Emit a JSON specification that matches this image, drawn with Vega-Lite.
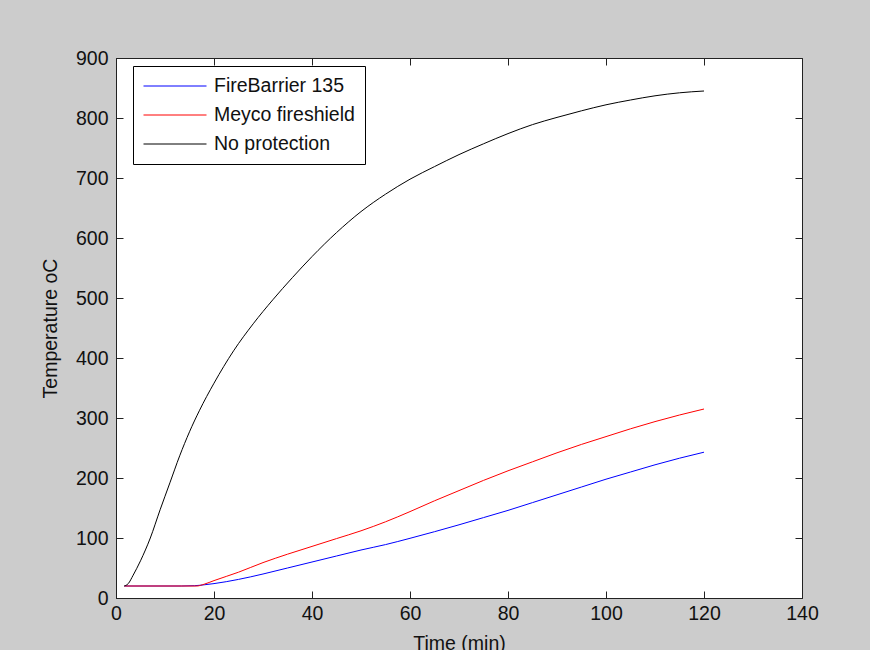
{
  "$schema": "https://vega.github.io/schema/vega-lite/v6.json",
  "autosize": {"type": "none"},
  "width": 686,
  "height": 540,
  "padding": {"left": 116, "top": 58, "right": 68, "bottom": 52},
  "background": "#cccccc",
  "data": {
    "values": [
      {"t": 1.7, "temp": 20, "series": "FireBarrier 135"},
      {"t": 13.4, "temp": 20, "series": "FireBarrier 135"},
      {"t": 16, "temp": 20.5, "series": "FireBarrier 135"},
      {"t": 18, "temp": 22, "series": "FireBarrier 135"},
      {"t": 20, "temp": 24, "series": "FireBarrier 135"},
      {"t": 25, "temp": 31, "series": "FireBarrier 135"},
      {"t": 30, "temp": 40, "series": "FireBarrier 135"},
      {"t": 35, "temp": 50, "series": "FireBarrier 135"},
      {"t": 40, "temp": 60, "series": "FireBarrier 135"},
      {"t": 45, "temp": 70, "series": "FireBarrier 135"},
      {"t": 50, "temp": 80, "series": "FireBarrier 135"},
      {"t": 55, "temp": 89, "series": "FireBarrier 135"},
      {"t": 60, "temp": 99.5, "series": "FireBarrier 135"},
      {"t": 65, "temp": 110.5, "series": "FireBarrier 135"},
      {"t": 70, "temp": 122, "series": "FireBarrier 135"},
      {"t": 75, "temp": 134, "series": "FireBarrier 135"},
      {"t": 80, "temp": 146, "series": "FireBarrier 135"},
      {"t": 85, "temp": 159, "series": "FireBarrier 135"},
      {"t": 90, "temp": 172, "series": "FireBarrier 135"},
      {"t": 95, "temp": 185, "series": "FireBarrier 135"},
      {"t": 100, "temp": 198, "series": "FireBarrier 135"},
      {"t": 105, "temp": 210, "series": "FireBarrier 135"},
      {"t": 110, "temp": 222, "series": "FireBarrier 135"},
      {"t": 115, "temp": 233, "series": "FireBarrier 135"},
      {"t": 120, "temp": 243, "series": "FireBarrier 135"},

      {"t": 1.7, "temp": 20, "series": "Meyco fireshield"},
      {"t": 16.5, "temp": 20, "series": "Meyco fireshield"},
      {"t": 18, "temp": 23, "series": "Meyco fireshield"},
      {"t": 20, "temp": 29, "series": "Meyco fireshield"},
      {"t": 25, "temp": 43, "series": "Meyco fireshield"},
      {"t": 30, "temp": 59, "series": "Meyco fireshield"},
      {"t": 35, "temp": 73, "series": "Meyco fireshield"},
      {"t": 40, "temp": 86, "series": "Meyco fireshield"},
      {"t": 45, "temp": 99, "series": "Meyco fireshield"},
      {"t": 50, "temp": 112, "series": "Meyco fireshield"},
      {"t": 55, "temp": 127, "series": "Meyco fireshield"},
      {"t": 60, "temp": 144, "series": "Meyco fireshield"},
      {"t": 65, "temp": 162, "series": "Meyco fireshield"},
      {"t": 70, "temp": 179, "series": "Meyco fireshield"},
      {"t": 75, "temp": 196, "series": "Meyco fireshield"},
      {"t": 80, "temp": 212, "series": "Meyco fireshield"},
      {"t": 85, "temp": 227, "series": "Meyco fireshield"},
      {"t": 90, "temp": 242, "series": "Meyco fireshield"},
      {"t": 95, "temp": 256, "series": "Meyco fireshield"},
      {"t": 100, "temp": 269, "series": "Meyco fireshield"},
      {"t": 105, "temp": 282, "series": "Meyco fireshield"},
      {"t": 110, "temp": 294, "series": "Meyco fireshield"},
      {"t": 115, "temp": 305, "series": "Meyco fireshield"},
      {"t": 120, "temp": 315, "series": "Meyco fireshield"},

      {"t": 1.7, "temp": 20, "series": "No protection"},
      {"t": 2.5, "temp": 24, "series": "No protection"},
      {"t": 3.5, "temp": 38, "series": "No protection"},
      {"t": 5, "temp": 62, "series": "No protection"},
      {"t": 7, "temp": 100, "series": "No protection"},
      {"t": 9, "temp": 147, "series": "No protection"},
      {"t": 11, "temp": 192, "series": "No protection"},
      {"t": 13, "temp": 237, "series": "No protection"},
      {"t": 15, "temp": 277, "series": "No protection"},
      {"t": 17, "temp": 312, "series": "No protection"},
      {"t": 20, "temp": 358, "series": "No protection"},
      {"t": 24, "temp": 412, "series": "No protection"},
      {"t": 28, "temp": 457, "series": "No protection"},
      {"t": 32, "temp": 497, "series": "No protection"},
      {"t": 36, "temp": 534, "series": "No protection"},
      {"t": 40, "temp": 569, "series": "No protection"},
      {"t": 45, "temp": 609, "series": "No protection"},
      {"t": 50, "temp": 644, "series": "No protection"},
      {"t": 55, "temp": 673, "series": "No protection"},
      {"t": 60, "temp": 698, "series": "No protection"},
      {"t": 65, "temp": 719, "series": "No protection"},
      {"t": 70, "temp": 739, "series": "No protection"},
      {"t": 75, "temp": 757, "series": "No protection"},
      {"t": 80, "temp": 774, "series": "No protection"},
      {"t": 85, "temp": 789, "series": "No protection"},
      {"t": 90, "temp": 801, "series": "No protection"},
      {"t": 95, "temp": 812, "series": "No protection"},
      {"t": 100, "temp": 822, "series": "No protection"},
      {"t": 105, "temp": 830, "series": "No protection"},
      {"t": 110, "temp": 837, "series": "No protection"},
      {"t": 115, "temp": 842, "series": "No protection"},
      {"t": 120, "temp": 845, "series": "No protection"}
    ]
  },
  "layer": [
    {
      "mark": {"type": "line", "strokeWidth": 1, "interpolate": "monotone"},
      "encoding": {
        "x": {
          "field": "t", "type": "quantitative",
          "scale": {"domain": [0, 140], "nice": false, "zero": false},
          "axis": {
            "orient": "bottom", "title": "Time (min)",
            "values": [0, 20, 40, 60, 80, 100, 120, 140],
            "tickSize": -7, "labelPadding": 13, "titlePadding": 12,
            "labelFlush": false
          }
        },
        "y": {
          "field": "temp", "type": "quantitative",
          "scale": {"domain": [0, 900], "nice": false, "zero": false},
          "axis": {
            "orient": "left", "title": "Temperature oC",
            "values": [0, 100, 200, 300, 400, 500, 600, 700, 800, 900],
            "tickSize": -7, "labelPadding": 15, "titlePadding": 15,
            "labelFlush": false
          }
        },
        "color": {
          "field": "series", "type": "nominal",
          "scale": {
            "domain": ["FireBarrier 135", "Meyco fireshield", "No protection"],
            "range": ["#0000ff", "#ff0000", "#000000"]
          },
          "legend": {
            "title": null, "orient": "none", "legendX": 17, "legendY": 8,
            "symbolType": "stroke", "symbolSize": 3969, "symbolStrokeWidth": 1,
            "clipHeight": 20, "rowPadding": 9, "labelOffset": 7,
            "padding": 10, "strokeColor": "#000000", "fillColor": "#ffffff",
            "cornerRadius": 0,
            "labelFont": "Liberation Sans", "labelFontSize": 19.5, "labelColor": "#111111",
            "labelLimit": 400
          }
        }
      }
    },
    {
      "mark": {"type": "line", "strokeOpacity": 0},
      "encoding": {
        "x": {
          "field": "t", "type": "quantitative",
          "axis": {
            "orient": "top", "title": null, "labels": false, "domain": false,
            "values": [0, 20, 40, 60, 80, 100, 120, 140], "tickSize": -7
          }
        },
        "y": {
          "field": "temp", "type": "quantitative",
          "axis": {
            "orient": "right", "title": null, "labels": false, "domain": false,
            "values": [0, 100, 200, 300, 400, 500, 600, 700, 800, 900], "tickSize": -7
          }
        },
        "detail": {"field": "series", "type": "nominal"}
      }
    }
  ],
  "resolve": {"axis": {"x": "independent", "y": "independent"}},
  "config": {
    "view": {"fill": "#ffffff", "stroke": "#222222", "strokeWidth": 1},
    "axis": {
      "grid": false,
      "domainColor": "#222222", "domainWidth": 1,
      "tickColor": "#222222", "tickWidth": 1,
      "labelFont": "Liberation Sans", "labelFontSize": 19.5, "labelColor": "#111111",
      "titleFont": "Liberation Sans", "titleFontSize": 19.5, "titleFontWeight": "normal",
      "titleColor": "#111111"
    }
  }
}
